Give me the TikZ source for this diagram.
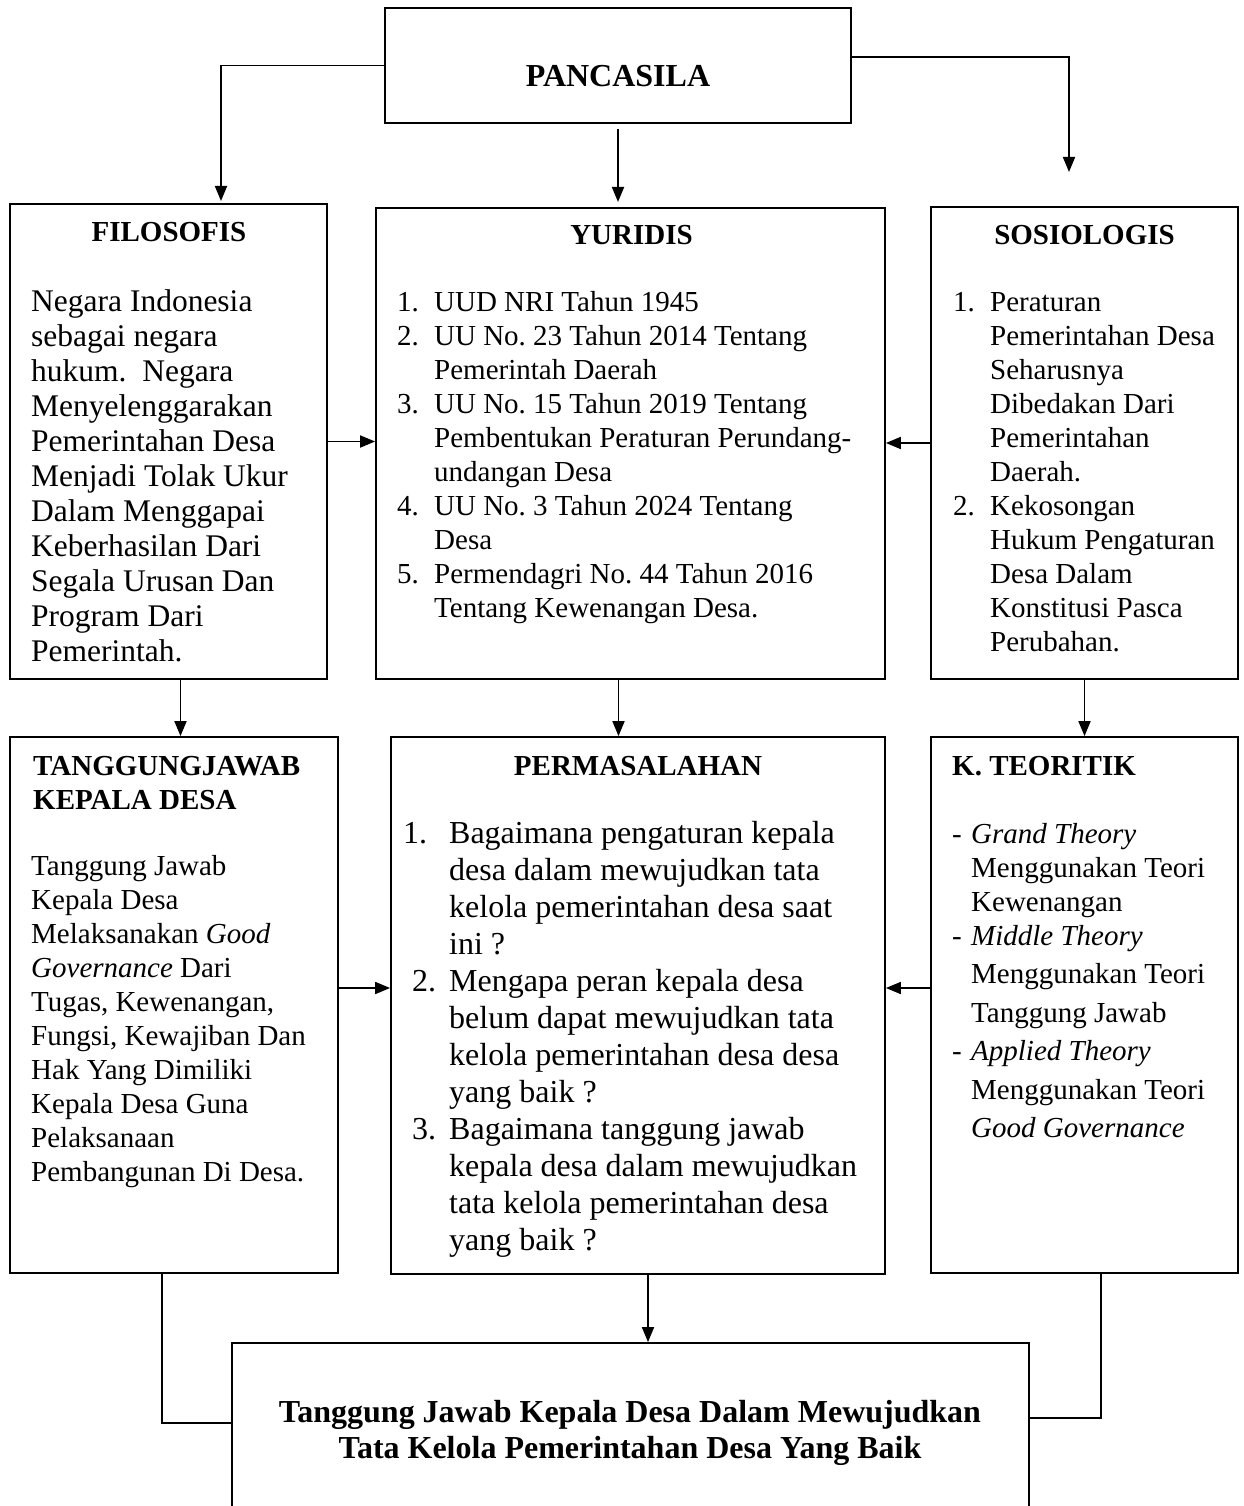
\documentclass[tikz,border=0pt]{standalone}
\usepackage{fontspec}
\setmainfont{Liberation Serif}
\usetikzlibrary{arrows.meta}
\frenchspacing
\newcommand{\lnum}[2][37pt]{\makebox[#1][l]{#2}}
\newcommand{\boxlines}[2][l]{\begin{tabular}[t]{@{}#1@{}}#2\end{tabular}}

\begin{document}
\begin{tikzpicture}[x=1pt, y=-1pt,
  box/.style={draw, line width=1.8pt, inner sep=0pt},
  arr/.style={line width=1.8pt, -{Triangle[length=15pt,width=12pt]}},
  link/.style={line width=1.8pt},
  head/.style={font=\bfseries\fontsize{29}{34}\selectfont, inner sep=0pt, anchor=base},
  txt/.style={font=\fontsize{29}{34}\selectfont, inner sep=0pt, anchor=base west}]

\useasboundingbox (0,0) rectangle (1243,1506);

% boxes
\node[box, minimum width=466pt, minimum height=115pt] (pan) at (618,65.5) {};
\node[box, minimum width=317pt, minimum height=475pt] (filo) at (168.5,441.5) {};
\node[box, minimum width=509pt, minimum height=471pt] (yuri) at (630.5,443.5) {};
\node[box, minimum width=307pt, minimum height=472pt] (sosio) at (1084.5,443) {};
\node[box, minimum width=328pt, minimum height=536pt] (tang) at (174,1005) {};
\node[box, minimum width=494pt, minimum height=537pt] (perm) at (638,1005.5) {};
\node[box, minimum width=307pt, minimum height=536pt] (kteo) at (1084.5,1005) {};
\node[box, minimum width=797pt, minimum height=177pt] (goal) at (630.5,1431.5) {};

% texts
\node[head, font=\bfseries\fontsize{32}{36}\selectfont] (pantxt) at (618,87) {PANCASILA};

\node[head] (filohead) at (169,242) {FILOSOFIS};
\node[txt, font=\fontsize{31.5}{35}\selectfont] (filotxt) at (31,311) {\boxlines{Negara Indonesia\\
  sebagai negara\\ hukum.\ \ Negara\\ Menyelenggarakan\\ Pemerintahan Desa\\
  Menjadi Tolak Ukur\\ Dalam Menggapai\\ Keberhasilan Dari\\ Segala Urusan Dan\\
  Program Dari\\ Pemerintah.}};

\node[head] (yurihead) at (631.5,245) {YURIDIS};
\node[txt] (yuritxt) at (397,311) {\boxlines{\lnum{1.}UUD NRI Tahun 1945\\
  \lnum{2.}UU No. 23 Tahun 2014 Tentang\\ \lnum{}Pemerintah Daerah\\
  \lnum{3.}UU No. 15 Tahun 2019 Tentang\\ \lnum{}Pembentukan Peraturan Perundang-\\
  \lnum{}undangan Desa\\ \lnum{4.}UU No. 3 Tahun 2024 Tentang\\ \lnum{}Desa\\
  \lnum{5.}Permendagri No. 44 Tahun 2016\\ \lnum{}Tentang Kewenangan Desa.}};

\node[head] (sosiohead) at (1084.5,245) {SOSIOLOGIS};
\node[txt] (sosiotxt) at (953,311) {\boxlines{\lnum{1.}Peraturan\\ \lnum{}Pemerintahan Desa\\
  \lnum{}Seharusnya\\ \lnum{}Dibedakan Dari\\ \lnum{}Pemerintahan\\ \lnum{}Daerah.\\
  \lnum{2.}Kekosongan\\ \lnum{}Hukum Pengaturan\\ \lnum{}Desa Dalam\\
  \lnum{}Konstitusi Pasca\\ \lnum{}Perubahan.}};

\node[head, anchor=base west] (tanghead) at (33,775) {\boxlines{TANGGUNGJAWAB\\KEPALA DESA}};
\node[txt] (tangtxt) at (31,875) {\boxlines{Tanggung Jawab\\ Kepala Desa\\
  Melaksanakan \textit{Good}\\ \textit{Governance} Dari\\ Tugas, Kewenangan,\\
  Fungsi, Kewajiban Dan\\ Hak Yang Dimiliki\\ Kepala Desa Guna\\ Pelaksanaan\\
  Pembangunan Di Desa.}};

\node[head] (permhead) at (638,775) {PERMASALAHAN};
\node[txt, font=\fontsize{32}{37}\selectfont] (permtxt) at (403,843) {\boxlines{\lnum[46pt]{1.}Bagaimana pengaturan kepala\\
  \lnum[46pt]{}desa dalam mewujudkan tata\\ \lnum[46pt]{}kelola pemerintahan desa saat\\
  \lnum[46pt]{}ini ?\\ \hspace*{9pt}\lnum{2.}Mengapa peran kepala desa\\
  \lnum[46pt]{}belum dapat mewujudkan tata\\ \lnum[46pt]{}kelola pemerintahan desa desa\\
  \lnum[46pt]{}yang baik ?\\ \hspace*{9pt}\lnum{3.}Bagaimana tanggung jawab\\
  \lnum[46pt]{}kepala desa dalam mewujudkan\\ \lnum[46pt]{}tata kelola pemerintahan desa\\
  \lnum[46pt]{}yang baik ?}};

\node[head, anchor=base west] (kteohead) at (952,775) {K. TEORITIK};
\node[txt] (kteotxt) at (952,843) {\boxlines{\lnum[19pt]{-}\textit{Grand Theory}\\
  \lnum[19pt]{}Menggunakan Teori\\ \lnum[19pt]{}Kewenangan\\
  \lnum[19pt]{-}\textit{Middle Theory}\\[4.5pt] \lnum[19pt]{}Menggunakan Teori\\[4.5pt]
  \lnum[19pt]{}Tanggung Jawab\\[4.5pt] \lnum[19pt]{-}\textit{Applied Theory}\\[4.5pt]
  \lnum[19pt]{}Menggunakan Teori\\[4.5pt] \lnum[19pt]{}\textit{Good Governance}}};

\node[head, font=\bfseries\fontsize{32}{36}\selectfont] (goaltxt) at (630,1422)
  {\boxlines[c]{Tanggung Jawab Kepala Desa Dalam Mewujudkan\\Tata Kelola Pemerintahan Desa Yang Baik}};

% connectors
\coordinate (filoin) at (221,201);
\coordinate (yuriin) at (618,202);
\coordinate (sosioin) at (1069,172);
\draw[arr] (pan.west) -| (filoin);
\draw[arr] ([yshift=-5pt]pan.south) -- (yuriin);
\draw[arr] ([yshift=8.5pt]pan.east) -| (sosioin);

\draw[arr] (filo.east) -- (filo.east -| yuri.west);
\draw[arr] (sosio.west) -- (sosio.west -| yuri.east);

\draw[arr] ([xshift=12pt]filo.south) -- ([xshift=12pt]filo.south |- tang.north);
\draw[arr] ([xshift=-12pt]yuri.south) -- ([xshift=-12pt]yuri.south |- perm.north);
\draw[arr] (sosio.south) -- (sosio.south |- kteo.north);

\draw[arr] ([yshift=17pt]tang.east) -- ([yshift=17pt]tang.east -| perm.west);
\draw[arr] ([yshift=17pt]kteo.west) -- ([yshift=17pt]kteo.west -| perm.east);

\draw[arr] ([xshift=10pt]perm.south) -- ([xshift=10pt]perm.south |- goal.north);
\draw[link] ([xshift=-12pt]tang.south) |- ([yshift=8.5pt]goal.west);
\draw[link] ([xshift=16.5pt]kteo.south) |- ([yshift=13.5pt]goal.east);

\end{tikzpicture}
\end{document}
